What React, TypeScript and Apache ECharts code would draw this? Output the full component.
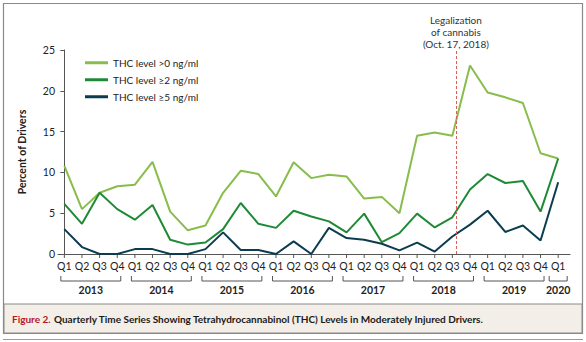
import React, { useEffect, useRef } from "react";
import * as echarts from "echarts";

const quarterLabels = [
  "Q1","Q2","Q3","Q4","Q1","Q2","Q3","Q4","Q1","Q2","Q3","Q4","Q1","Q2","Q3","Q4",
  "Q1","Q2","Q3","Q4","Q1","Q2","Q3","Q4","Q1","Q2","Q3","Q4","Q1",
];
const yearLabels = ["2013","2014","2015","2016","2017","2018","2019","2020"];
const yearStart = [0, 4, 8, 12, 16, 20, 24, 28];
const yearEnd = [3, 7, 11, 15, 19, 23, 27, 28];

const thcAbove0 = [10.8, 5.5, 7.5, 8.3, 8.5, 11.3, 5.2, 2.9, 3.5, 7.5, 10.2, 9.8, 7.05, 11.25, 9.3, 9.7, 9.5, 6.8, 7.0, 5.0, 14.5, 14.9, 14.5, 23.1, 19.8, 19.2, 18.5, 12.35, 11.7];
const thcAtLeast2 = [6.15, 3.7, 7.5, 5.5, 4.2, 6.0, 1.75, 1.15, 1.4, 3.05, 6.25, 3.7, 3.2, 5.3, 4.6, 4.0, 2.65, 4.95, 1.45, 2.55, 4.95, 3.25, 4.5, 7.9, 9.8, 8.7, 8.95, 5.2, 11.7];
const thcAtLeast5 = [3.05, 0.85, 0, 0, 0.6, 0.6, 0, 0, 0.6, 2.65, 0.5, 0.5, 0, 1.55, 0, 3.2, 1.95, 1.75, 1.25, 0.45, 1.4, 0.3, 2.15, 3.6, 5.3, 2.7, 3.5, 1.65, 8.8];

const seriesNames = ["THC level >0 ng/ml", "THC level \u22652 ng/ml", "THC level \u22655 ng/ml"];
const legalizationX = 22.2;
const legalizationLabel = "Legalization\nof cannabis\n(Oct. 17, 2018)";

const FONT = "Lato";

export default function App() {
  const ref = useRef<HTMLDivElement>(null);
  useEffect(() => {
    if (!ref.current) return;
    const chart = echarts.init(ref.current, null, { renderer: "svg" });
    const toPairs = (arr: number[]) => arr.map((v, i) => [i, v]);
    const colors = ["#88bd4c", "#1f8a36", "#0b3c50"];
    const option: any = {
      animation: false,
      textStyle: { fontFamily: FONT },
      grid: { left: 58, right: 16, top: 50, bottom: 88 },
      legend: {
        orient: "vertical",
        left: 80,
        top: 51,
        itemWidth: 23,
        itemHeight: 3,
        itemGap: 3.5,
        icon: "rect",
        textStyle: { fontSize: 10, color: "#222", fontFamily: FONT, lineHeight: 13.5, padding: [0, 0, 0, 0] },
        data: seriesNames,
      },
      xAxis: {
        type: "value",
        min: -0.36,
        max: 28.67,
        axisLine: { show: true, lineStyle: { color: "#555", width: 1 } },
        axisTick: { show: false },
        axisLabel: { show: false },
        splitLine: { show: false },
      },
      yAxis: {
        type: "value",
        min: 0,
        max: 25,
        interval: 5,
        name: "Percent of Drivers",
        nameLocation: "middle",
        nameGap: 31,
        nameTextStyle: { fontSize: 10.5, fontWeight: "bold", color: "#222", fontFamily: FONT },
        axisLine: { show: true, lineStyle: { color: "#555", width: 1 } },
        axisTick: { show: true, length: 4, lineStyle: { color: "#555" } },
        axisLabel: { fontSize: 10.5, color: "#222", margin: 3, fontFamily: FONT },
        splitLine: { show: false },
      },
      series: [
        {
          name: seriesNames[0],
          type: "line",
          data: toPairs(thcAbove0),
          symbol: "none",
          lineStyle: { width: 2, color: colors[0] },
          itemStyle: { color: colors[0] },
          markLine: {
            silent: true,
            symbol: "none",
            lineStyle: { color: "#d9605a", type: [3, 2], width: 1 },
            label: {
              show: true,
              position: "end",
              formatter: legalizationLabel,
              fontSize: 10,
              lineHeight: 12,
              color: "#333",
              fontFamily: FONT,
              distance: 0,
            },
            data: [{ xAxis: legalizationX }],
          },
        },
        {
          name: seriesNames[1],
          type: "line",
          data: toPairs(thcAtLeast2),
          symbol: "none",
          lineStyle: { width: 2, color: colors[1] },
          itemStyle: { color: colors[1] },
        },
        {
          name: seriesNames[2],
          type: "line",
          data: toPairs(thcAtLeast5),
          symbol: "none",
          lineStyle: { width: 2, color: colors[2] },
          itemStyle: { color: colors[2] },
        },
        {
          type: "custom",
          silent: true,
          clip: false,
          data: quarterLabels.map((q, i) => [i, 0]),
          renderItem: (params: any, api: any) => {
            const i = api.value(0);
            const p = api.coord([i, 0]);
            return {
              type: "group",
              children: [
                { type: "line", shape: { x1: p[0], y1: p[1], x2: p[0], y2: p[1] + 4 }, style: { stroke: "#555", lineWidth: 1 } },
                {
                  type: "text",
                  x: p[0],
                  y: p[1] + 12,
                  style: { text: quarterLabels[i], fontSize: 10.5, fill: "#222", align: "center", verticalAlign: "middle", fontFamily: FONT },
                },
              ],
            };
          },
        },
        {
          type: "custom",
          silent: true,
          clip: false,
          data: yearLabels.map((y, k) => [yearStart[k], yearEnd[k], k]),
          renderItem: (params: any, api: any) => {
            const s = api.value(0);
            const e = api.value(1);
            const k = api.value(2);
            const pad = s === e ? 9 : 3.5;
            const ps = api.coord([s, 0]);
            const pe = api.coord([e, 0]);
            const xs = ps[0] - pad;
            const xe = pe[0] + pad;
            const yb = ps[1] + 27;
            return {
              type: "group",
              children: [
                {
                  type: "polyline",
                  shape: { points: [[xs, yb - 5], [xs, yb], [xe, yb], [xe, yb - 5]] },
                  style: { stroke: "#555", lineWidth: 1, fill: null },
                },
                {
                  type: "text",
                  x: (xs + xe) / 2,
                  y: yb + 8.5,
                  style: { text: yearLabels[k], fontSize: 10.5, fontWeight: "bold", fill: "#222", align: "center", verticalAlign: "middle", fontFamily: FONT },
                },
              ],
            };
          },
        },
      ],
      graphic: [
        {
          type: "rect",
          silent: true,
          z: -10,
          shape: { x: 3.5, y: 3.5, width: 579, height: 330 },
          style: { fill: "#fff", stroke: "#8a8a8a", lineWidth: 1.2 },
        },
        {
          type: "rect",
          silent: true,
          z: -9,
          shape: { x: 4, y: 304, width: 578, height: 29 },
          style: { fill: "#f3eee7", stroke: "#8a8a8a", lineWidth: 1 },
        },
        {
          type: "line",
          silent: true,
          shape: { x1: 3, y1: 339.5, x2: 583, y2: 339.5 },
          style: { stroke: "#9a9a9a", lineWidth: 1 },
        },
        {
          type: "text",
          silent: true,
          x: 12,
          y: 319,
          style: {
            text: "{r|Figure 2.} {b|Quarterly Time Series Showing Tetrahydrocannabinol (THC) Levels in Moderately Injured Drivers.}",
            verticalAlign: "middle",
            rich: {
              r: { fontSize: 10, fontWeight: "bold", fill: "#b5162a", fontFamily: FONT },
              b: { fontSize: 10, fontWeight: "bold", fill: "#1a1a1a", fontFamily: FONT },
            },
          },
        },
      ],
    };
    chart.setOption(option);
    return () => chart.dispose();
  }, []);
  return (
    <div
      ref={ref}
      style={{ position: "absolute", left: 0, top: 0, width: 586, height: 342, background: "#fff" }}
    />
  );
}
